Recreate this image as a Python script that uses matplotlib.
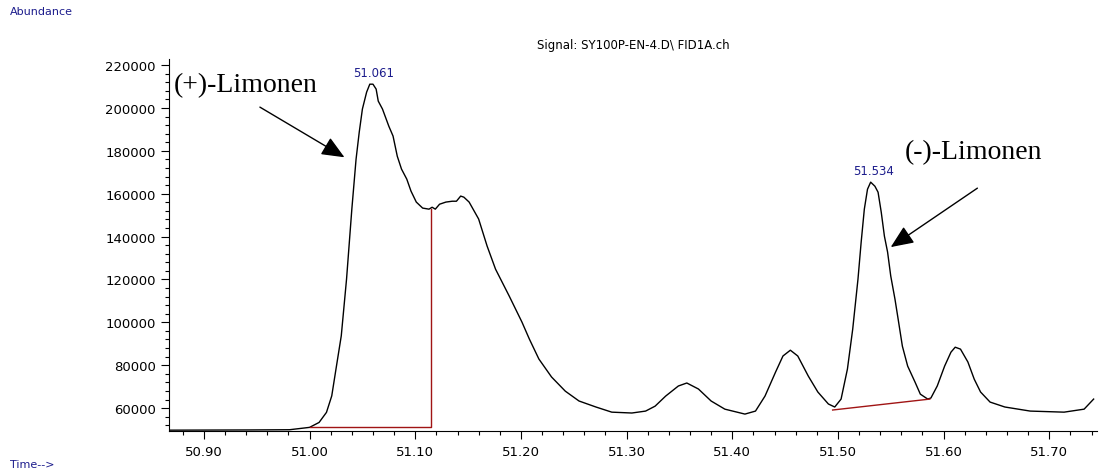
import matplotlib.pyplot as plt
from matplotlib.ticker import MultipleLocator

# retention time (min) and abundance
time = [50.867, 50.943, 50.981, 51.000, 51.009, 51.016, 51.021, 51.025, 51.030,
        51.035, 51.040, 51.044, 51.047, 51.050, 51.054, 51.057, 51.060, 51.063,
        51.065, 51.069, 51.075, 51.079, 51.083, 51.087, 51.092, 51.096, 51.101,
        51.107, 51.113, 51.116, 51.119, 51.123, 51.129, 51.135, 51.139, 51.143,
        51.146, 51.151, 51.160, 51.168, 51.176, 51.189, 51.201, 51.208, 51.217,
        51.229, 51.242, 51.255, 51.271, 51.286, 51.305, 51.318, 51.327, 51.337,
        51.349, 51.357, 51.368, 51.380, 51.393, 51.412, 51.422, 51.431, 51.441,
        51.448, 51.455, 51.462, 51.472, 51.481, 51.491, 51.497, 51.503, 51.509,
        51.514, 51.519, 51.522, 51.525, 51.528, 51.531, 51.535, 51.538, 51.541,
        51.544, 51.547, 51.550, 51.554, 51.557, 51.561, 51.566, 51.573, 51.578,
        51.585, 51.588, 51.594, 51.601, 51.607, 51.611, 51.616, 51.623, 51.629,
        51.635, 51.644, 51.658, 51.682, 51.714, 51.733, 51.742]
abundance = [49700, 49800, 49900, 51000, 53300, 58000, 65700, 78200, 93700,
             120200, 152800, 176100, 188700, 199500, 207400, 211100, 211100, 208800,
             203200, 199500, 191500, 186900, 177500, 171500, 166800, 161200, 156100,
             153300, 152800, 153700, 152800, 155100, 156100, 156500, 156500, 158900,
             158400, 156100, 148200, 135600, 124800, 112200, 100100, 92200, 82900,
             74500, 67900, 63300, 60500, 58100, 57700, 58600, 60900, 65600,
             70300, 71700, 68900, 63300, 59500, 57200, 58600, 65600, 76800,
             84300, 87000, 84300, 74900, 67500, 61900, 60500, 64200, 78200,
             96800, 120200, 137400, 152800, 162100, 165400, 163500, 160700, 151400,
             140200, 132800, 121600, 110800, 101500, 88900, 79600, 72100, 66500,
             64200, 64700, 70300, 79600, 86100, 88400, 87500, 81500, 73500,
             67500, 62800, 60500, 58600, 58100, 59500, 64200]

# integration baselines
base1_t = [51.000, 51.115, 51.115]
base1_y = [51000, 51000, 152800]
base2_t = [51.495, 51.587]
base2_y = [59100, 64200]

peak_times = [51.061, 51.534]
peak_heights = [211100, 165400]

navy = '#1c1c8c'
plt.rcParams['font.family'] = 'DejaVu Sans'

fig = plt.figure(figsize=(10.99, 4.77), dpi=100)
ax = fig.add_axes([0.1538, 0.0943, 0.8442, 0.7797])

ax.plot(time, abundance, color='black', lw=1)
ax.plot(base1_t, base1_y, color='#a01414', lw=1)
ax.plot(base2_t, base2_y, color='#a01414', lw=1)

for t, h in zip(peak_times, peak_heights):
    ax.text(t, h + 2500, f"{t:.3f}", color=navy, fontsize=8.5,
            ha='center', va='bottom')

ax.set_xlim(50.867, 51.745)
ax.set_ylim(49300, 222800)
ax.xaxis.set_major_locator(MultipleLocator(0.1))
ax.xaxis.set_minor_locator(MultipleLocator(0.02))
ax.yaxis.set_major_locator(MultipleLocator(20000))
ax.yaxis.set_minor_locator(MultipleLocator(4000))
ax.xaxis.set_major_formatter(lambda v, p: f"{v:.2f}")
ax.yaxis.set_major_formatter(lambda v, p: f"{int(round(v))}")
ax.tick_params(axis='both', which='major', length=6, width=0.8, labelsize=9.5)
ax.tick_params(axis='both', which='minor', length=3, width=0.8)
ax.tick_params(axis='x', pad=4)
for s in ['top', 'right']:
    ax.spines[s].set_visible(False)

ax.set_title(r"Signal: SY100P-EN-4.D\ FID1A.ch", fontsize=8.5, pad=8)

serif = 'Liberation Serif'
head = '-|>,head_length=0.7,head_width=0.3'
ax.text(50.940, 211100, "(+)-Limonen", family=serif, fontsize=20,
        ha='center', va='center')
ax.annotate("", xy=(51.033, 177000), xytext=(50.953, 200400),
            arrowprops=dict(arrowstyle=head, color='black', lw=1,
                            mutation_scale=20, shrinkA=0, shrinkB=0))
ax.text(51.628, 179800, "(-)-Limonen", family=serif, fontsize=20,
        ha='center', va='center')
ax.annotate("", xy=(51.550, 135100), xytext=(51.632, 162600),
            arrowprops=dict(arrowstyle=head, color='black', lw=1,
                            mutation_scale=20, shrinkA=0, shrinkB=0))

fig.text(10 / 1099, 1 - 12 / 477, "Abundance", color=navy, fontsize=8,
         ha='left', va='center')
fig.text(10 / 1099, 1 - 465 / 477, "Time-->", color=navy, fontsize=8,
         ha='left', va='center')

fig.savefig('out.png', dpi=100)
